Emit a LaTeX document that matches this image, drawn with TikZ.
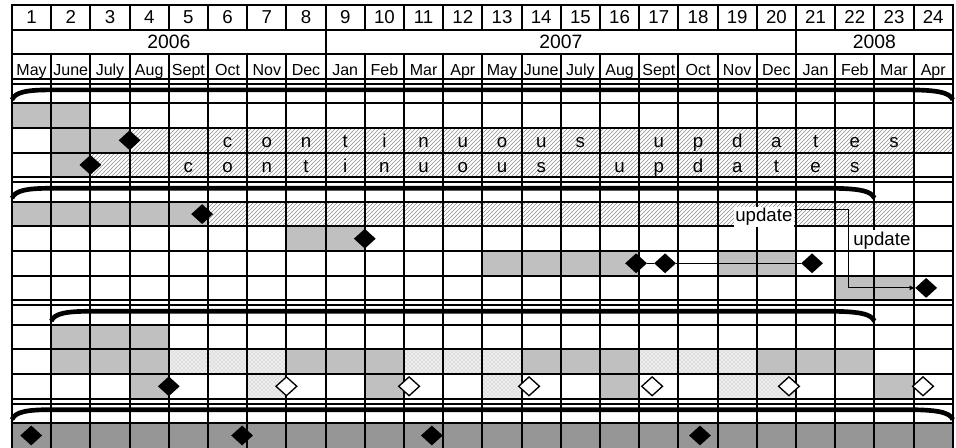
\documentclass[tikz,border=0pt]{standalone}
\usepackage{fontspec}
\setmainfont{Liberation Sans}
\usepackage{tikz}
\usetikzlibrary{arrows.meta,shapes.geometric,patterns}
\definecolor{PlanGray}{HTML}{C0C0C0}
\definecolor{PlanDark}{HTML}{969696}
\definecolor{PlanHatch}{HTML}{8C8C8C}
\definecolor{PlanDots}{HTML}{B4B4B4}
\pgfdeclarelayer{front}
\pgfsetlayers{main,front}
\tikzset{
  gridline/.style={line width=1.5pt, line cap=rect},
  work/.style={fill=PlanGray},
  review/.style={fill=PlanDark},
  ongoing/.style={pattern=north east lines, pattern color=PlanHatch},
  pending/.style={preaction={fill=black!7}, pattern=crosshatch dots, pattern color=PlanDots},
  headnum/.style={anchor=base, inner sep=0pt, font=\fontsize{14}{16}\selectfont},
  yearlabel/.style={anchor=base, inner sep=0pt, font=\fontsize{14.5}{17}\selectfont},
  monthlabel/.style={anchor=base, inner sep=0pt, font=\fontsize{12}{14}\selectfont},
  letter/.style={anchor=base, inner sep=0pt, font=\fontsize{14}{16}\selectfont},
  note/.style={anchor=base, fill=white, inner sep=1pt, font=\fontsize{14}{16}\selectfont},
  done/.style={diamond, fill=black, inner sep=0pt, minimum width=16.5pt, minimum height=15pt},
  due/.style={diamond, draw=black, fill=white, line width=1pt, inner sep=0pt,
    minimum width=16pt, minimum height=14.5pt},
  phase/.style={line width=3.5pt},
  link/.style={line width=0.8pt}
}
\newcommand{\taskbar}[4]{\path[#1] (#2,#4) rectangle (#3,#4+1);}
\newcommand{\phasebrace}[3]{%
  \draw[phase] (#1,#3+0.85) .. controls (#1+0.08,#3+0.55) and (#1+0.35,#3+0.45) .. (#1+1,#3+0.45)
    -- (#2-1.2,#3+0.45) .. controls (#2-0.4,#3+0.45) and (#2-0.08,#3+0.55) .. (#2,#3+0.85);}

\begin{document}
\begin{tikzpicture}[x=29.4pt, y=-18.45pt]
  \useasboundingbox (-9pt,3.75pt) rectangle (708pt,-332.25pt);
  % bars
  \taskbar{work}{0}{2}{4}
  \taskbar{work}{1}{3}{5}
  \taskbar{ongoing}{3}{24}{5}
  \taskbar{work}{1}{2}{6}
  \taskbar{ongoing}{2}{23}{6}
  \taskbar{work}{0}{5}{8}
  \taskbar{ongoing}{5}{23}{8}
  \taskbar{work}{7}{9}{9}
  \taskbar{work}{12}{16}{10}
  \taskbar{work}{18}{20}{10}
  \taskbar{work}{21}{23}{11}
  \taskbar{work}{1}{4}{13}
  \foreach \a/\b/\kind in {1/4/work,4/7/pending,7/10/work,10/13/pending,13/16/work,16/19/pending,19/22/work}
    \taskbar{\kind}{\a}{\b}{14}
  \foreach \a/\b/\kind in {3/4/work,6/7/pending,9/10/work,12/13/pending,15/16/work,18/20/pending,22/23/work}
    \taskbar{\kind}{\a}{\b}{15}
  \taskbar{review}{0}{24}{17}
  % grid
  \foreach \r in {0,...,17}
    \draw[gridline] (0,\r) -- (24,\r);
  \foreach \r in {3,7,12,16}
    \draw[gridline] (0,\r+0.2) -- (24,\r+0.2);
  \foreach \c in {0,...,24} {
    \draw[gridline] (\c,0) -- (\c,1);
    \draw[gridline] (\c,2) -- (\c,18);
  }
  \foreach \c in {0,8,20,24}
    \draw[gridline] (\c,1) -- (\c,2);
  % header
  \foreach \i in {1,...,24}
    \node[headnum] (num-\i) at (\i-0.5,0.77) {\i};
  \node[yearlabel] (y2006) at (4,1.76) {2006};
  \node[yearlabel] (y2007) at (14,1.76) {2007};
  \node[yearlabel] (y2008) at (22,1.76) {2008};
  \foreach \m [count=\i] in {May,June,July,Aug,Sept,Oct,Nov,Dec,Jan,Feb,Mar,Apr,
      May,June,July,Aug,Sept,Oct,Nov,Dec,Jan,Feb,Mar,Apr}
    \node[monthlabel] (mon-\i) at (\i-0.5,2.88) {\m};
  % continuous updates
  \foreach \col/\ch in {6/c,7/o,8/n,9/t,10/i,11/n,12/u,13/o,14/u,15/s,17/u,18/p,19/d,20/a,21/t,22/e,23/s} {
    \node[letter] (upa-\col) at (\col-0.5,5.8) {\ch};
    \node[letter] (upb-\col) at (\col-1.5,6.8) {\ch};
  }
  % phases
  \phasebrace{0}{24}{3}
  \phasebrace{0}{22}{7}
  \phasebrace{1}{22}{12}
  \phasebrace{0}{24}{16}
  % milestones
  \begin{pgfonlayer}{front}
    \node[done] (m5) at (3,5.5) {};
    \node[done] (m6) at (2,6.5) {};
    \node[done] (m8) at (4.85,8.5) {};
    \node[done] (m9) at (9,9.5) {};
    \node[done] (m10a) at (15.92,10.5) {};
    \node[done] (m10b) at (16.66,10.5) {};
    \node[done] (m10c) at (20.41,10.5) {};
    \node[done] (m11) at (23.32,11.5) {};
    \node[done] (m15) at (4,15.5) {};
    \foreach \x [count=\k] in {7,10.13,13.19,16.33,19.82,23.24}
      \node[due] (d15-\k) at (\x,15.5) {};
    \foreach \x [count=\k] in {0.49,5.87,10.71,17.55}
      \node[done] (m17-\k) at (\x,17.5) {};
    \node[note] (upd1) at (19.18,8.81) {update};
    \node[note] (upd2) at (22.19,9.76) {update};
  \end{pgfonlayer}
  % updates
  \coordinate (bend) at (21.33,8.33);
  \draw[link] (m10a) -- (m10b) -- (m10c);
  \draw[link, -{Latex[length=4pt,width=4pt]}] (upd1.east |- bend) -- (bend) |- (m11.west);
\end{tikzpicture}
\end{document}
